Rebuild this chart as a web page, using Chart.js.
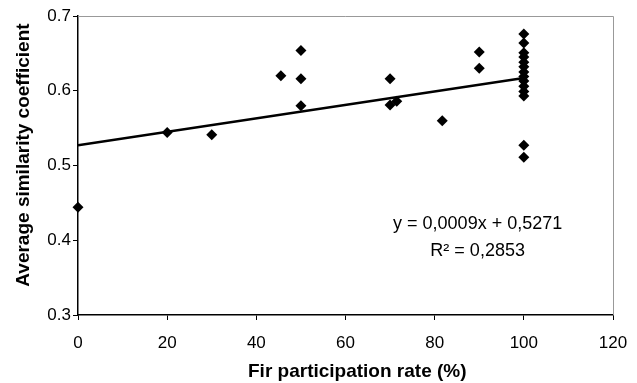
<!DOCTYPE html>
<html>
<head>
<meta charset="utf-8">
<script src="https://cdn.jsdelivr.net/npm/chart.js@4"></script>
<style>
  html, body { margin: 0; padding: 0; background: #fff; }
  #wrap { width: 637px; height: 383px; }
</style>
</head>
<body>
<div id="wrap"><canvas id="grafico" width="637" height="383"></canvas></div>
<script>
// Datos
const firRate = [0, 20, 30, 45.5, 50, 50, 50, 70, 70, 71.5, 81.7, 90, 90,
  100, 100, 100, 100, 100, 100, 100, 100, 100, 100, 100, 100, 100, 100];
const similarity = [0.444, 0.544, 0.541, 0.620, 0.654, 0.616, 0.580, 0.616, 0.581, 0.586, 0.560, 0.652, 0.630,
  0.676, 0.664, 0.651, 0.645, 0.638, 0.632, 0.625, 0.619, 0.613, 0.606, 0.599, 0.593, 0.527, 0.511];

// Línea de tendencia: y = 0,0009x + 0,5271
const trendX = [0, 100];
const trendSlope = 0.0009;
const trendIntercept = 0.5271;
const trendY = trendX.map((x) => trendSlope * x + trendIntercept);

const equationLabels = ['y = 0,0009x + 0,5271', 'R\u00B2 = 0,2853'];
const yTitle = 'Average similarity coefficient';
const xTitle = 'Fir participation rate (%)';

const xTicks = [0, 20, 40, 60, 80, 100, 120];
const yTicks = [0.3, 0.4, 0.5, 0.6, 0.7];

const fontTicks = "'Liberation Sans', Arial, sans-serif";

// Plugin para el marco gris, los títulos de los ejes y la ecuación
const extras = {
  id: 'extras',
  afterDatasetsDraw(chart) {
    const { ctx, chartArea: a } = chart;
    ctx.save();
    ctx.strokeStyle = '#999';
    ctx.lineWidth = 1;
    ctx.beginPath();
    ctx.moveTo(a.left, a.top + 0.5);
    ctx.lineTo(a.right + 0.5, a.top + 0.5);
    ctx.lineTo(a.right + 0.5, a.bottom);
    ctx.stroke();

    ctx.fillStyle = '#000';
    ctx.font = "18px " + fontTicks;
    ctx.textAlign = 'center';
    ctx.textBaseline = 'middle';
    const cx = a.left + (a.right - a.left) * 0.747;
    ctx.fillText(equationLabels[0], cx, a.top + 208);
    ctx.fillText(equationLabels[1], cx, a.top + 235);

    // título del eje X (algo desplazado a la derecha, como en el original)
    ctx.font = "bold 19px " + fontTicks;
    ctx.fillText(xTitle, a.left + (a.right - a.left) * 0.522, a.bottom + 57);

    // título del eje Y (un poco por encima del centro)
    ctx.translate(24, a.top + (a.bottom - a.top) * 0.465);
    ctx.rotate(-Math.PI / 2);
    ctx.fillText(yTitle, 0, 0);
    ctx.restore();
  }
};

const canvas = document.getElementById('grafico');
new Chart(canvas, {
  type: 'scatter',
  data: {
    datasets: [
      {
        label: 'Similarity',
        data: firRate.map((x, i) => ({ x: x, y: similarity[i] })),
        pointStyle: 'rectRot',
        pointRadius: 5.5,
        backgroundColor: '#000',
        borderColor: '#000',
        borderWidth: 0,
        clip: false,
        order: 1
      },
      {
        label: 'Trend',
        type: 'line',
        data: trendX.map((x, i) => ({ x: x, y: trendY[i] })),
        borderColor: '#000',
        borderWidth: 2.5,
        pointRadius: 0,
        fill: false,
        order: 2
      }
    ]
  },
  options: {
    responsive: false,
    animation: false,
    events: [],
    layout: { padding: { top: 16, right: 24, left: 0, bottom: 0 } },
    plugins: { legend: { display: false }, tooltip: { enabled: false } },
    scales: {
      x: {
        type: 'linear',
        min: 0,
        max: 120,
        afterBuildTicks: (s) => { s.ticks = xTicks.map((v) => ({ value: v })); },
        afterFit: (s) => { s.height = 68; s.paddingRight = 0; s.paddingLeft = 0; },
        grid: { drawOnChartArea: false, color: '#000', tickLength: 5, tickColor: '#000' },
        border: { color: '#000', width: 1.5 },
        ticks: { color: '#000', font: { family: fontTicks, size: 17 }, padding: 13 },
        title: { display: false }
      },
      y: {
        type: 'linear',
        min: 0.3,
        max: 0.7,
        afterBuildTicks: (s) => { s.ticks = yTicks.map((v) => ({ value: v })); },
        afterFit: (s) => { s.width = 78; },
        grid: { drawOnChartArea: false, color: '#000', tickLength: 5, tickColor: '#000' },
        border: { color: '#000', width: 1.5 },
        ticks: { color: '#000', font: { family: fontTicks, size: 17 }, padding: 2,
          callback: (v) => v.toFixed(1) },
        title: { display: false }
      }
    }
  },
  plugins: [extras]
});
</script>
</body>
</html>
